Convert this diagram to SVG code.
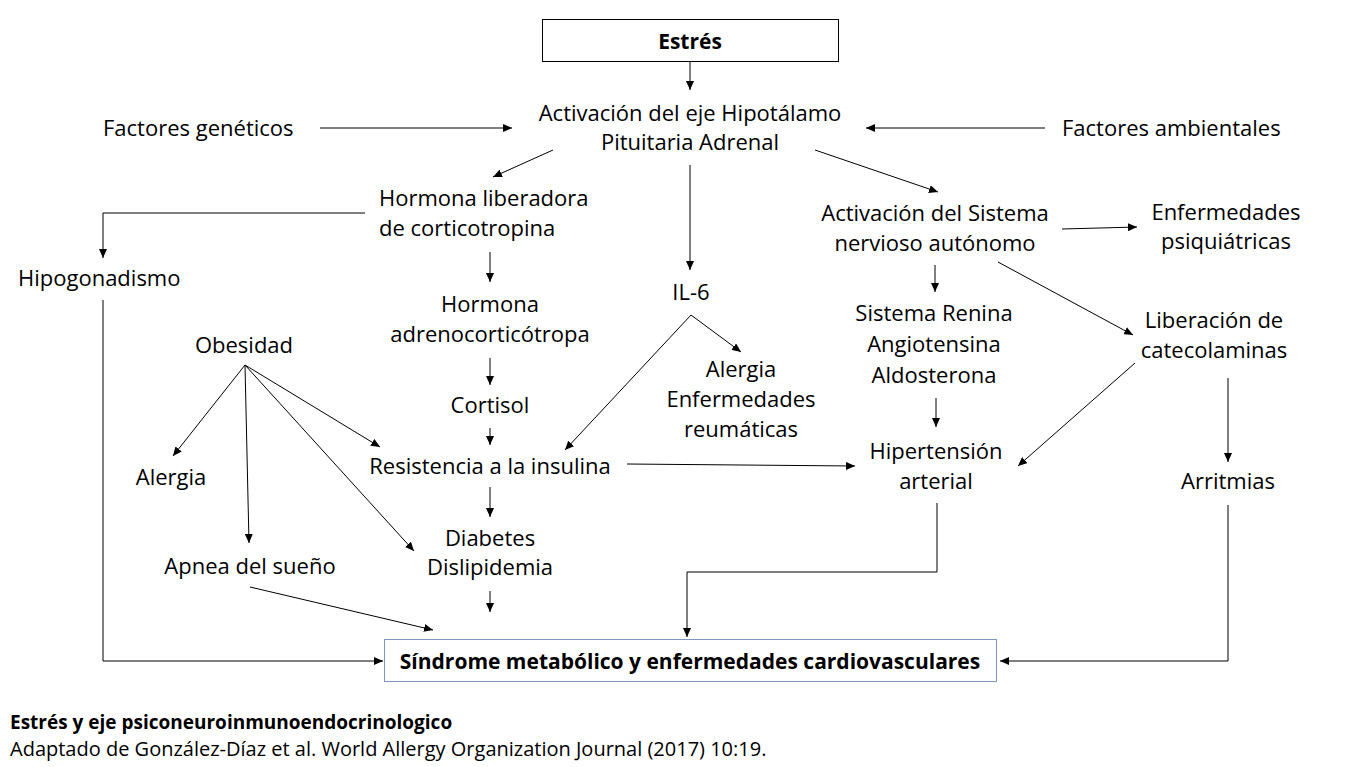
<svg xmlns="http://www.w3.org/2000/svg" width="1366" height="767" viewBox="0 0 1366 767">
<defs>
<marker id="ah" markerWidth="10" markerHeight="8" refX="9" refY="4" orient="auto" markerUnits="userSpaceOnUse">
<path d="M0,0 L9,4 L0,8 Z" fill="#000"/>
</marker>
<style>
text{font-family:"Open Sans","Liberation Sans",sans-serif;font-size:22px;fill:#000;text-anchor:middle}
.b{font-weight:bold;font-size:21px}
.l{text-anchor:start}
.cap{font-size:20px;text-anchor:start}
.capb{font-size:19px;font-weight:bold;text-anchor:start}
.c line,.c polyline{stroke:#000;stroke-width:1;fill:none;marker-end:url(#ah)}
</style>
</defs>
<rect width="1366" height="767" fill="#fff"/>
<g id="estres"><rect x="542.5" y="19.5" width="296" height="42" fill="#fff" stroke="#000"/><text class="b" x="690" y="49">Estrés</text></g>
<g id="hpa"><text x="690" y="121">Activación del eje Hipotálamo</text><text x="690" y="150">Pituitaria Adrenal</text></g>
<g id="geneticos"><text class="l" x="103" y="136">Factores genéticos</text></g>
<g id="ambientales"><text class="l" x="1062" y="136">Factores ambientales</text></g>
<g id="crh"><text class="l" x="379" y="206">Hormona liberadora</text><text class="l" x="379" y="236">de corticotropina</text></g>
<g id="hipogonadismo"><text class="l" x="18" y="286">Hipogonadismo</text></g>
<g id="acth"><text x="490" y="312">Hormona</text><text x="490" y="342">adrenocorticótropa</text></g>
<g id="cortisol"><text x="490" y="413">Cortisol</text></g>
<g id="resistencia"><text x="490" y="474">Resistencia a la insulina</text></g>
<g id="diabetes"><text x="490" y="546">Diabetes</text><text x="490" y="575">Dislipidemia</text></g>
<g id="il6"><text x="691" y="300">IL-6</text></g>
<g id="alergia2"><text x="741" y="377">Alergia</text><text x="741" y="407">Enfermedades</text><text x="741" y="437">reumáticas</text></g>
<g id="sna"><text x="935" y="221">Activación del Sistema</text><text x="935" y="251">nervioso autónomo</text></g>
<g id="psiq"><text x="1226" y="220">Enfermedades</text><text x="1226" y="249">psiquiátricas</text></g>
<g id="sraa"><text x="934" y="321">Sistema Renina</text><text x="934" y="352">Angiotensina</text><text x="934" y="383">Aldosterona</text></g>
<g id="catecol"><text x="1214" y="328">Liberación de</text><text x="1214" y="358">catecolaminas</text></g>
<g id="hta"><text x="936" y="459">Hipertensión</text><text x="936" y="489">arterial</text></g>
<g id="arritmias"><text x="1228" y="489">Arritmias</text></g>
<g id="obesidad"><text x="244" y="353">Obesidad</text></g>
<g id="alergia1"><text x="171" y="485">Alergia</text></g>
<g id="apnea"><text x="250" y="574">Apnea del sueño</text></g>
<g id="sindrome"><rect x="384.5" y="639.5" width="612" height="42" fill="#fff" stroke="#7f95c0"/><text class="b" x="690" y="669">Síndrome metabólico y enfermedades cardiovasculares</text></g>
<g id="caption"><text class="capb" x="10" y="729">Estrés y eje psiconeuroinmunoendocrinologico</text><text class="cap" x="10" y="756">Adaptado de González-Díaz et al. World Allergy Organization Journal (2017) 10:19.</text></g>
<g class="c" id="connectors">
<line x1="690" y1="62" x2="690" y2="90"/>
<line x1="320" y1="128" x2="512" y2="128"/>
<line x1="1045" y1="128" x2="866" y2="128"/>
<line x1="553" y1="150" x2="493" y2="177"/>
<polyline points="365,213 103,213 103,258"/>
<polyline points="103,300 103,661 383,661"/>
<line x1="690" y1="165" x2="690" y2="270"/>
<line x1="691" y1="315" x2="565" y2="450"/>
<line x1="691" y1="315" x2="741" y2="352"/>
<line x1="815" y1="150" x2="938" y2="192"/>
<line x1="1062" y1="229" x2="1137" y2="227"/>
<line x1="935" y1="265" x2="935" y2="292"/>
<line x1="998" y1="262" x2="1133" y2="335"/>
<line x1="936" y1="398" x2="936" y2="427"/>
<line x1="1135" y1="363" x2="1018" y2="466"/>
<line x1="1228" y1="378" x2="1228" y2="462"/>
<polyline points="1228,505 1228,661 1000,661"/>
<polyline points="937,503 937,572 687,572 687,637"/>
<line x1="245" y1="365" x2="173" y2="456"/>
<line x1="245" y1="365" x2="249" y2="543"/>
<line x1="245" y1="365" x2="380" y2="447"/>
<line x1="245" y1="365" x2="414" y2="551"/>
<line x1="250" y1="587" x2="433" y2="630"/>
<line x1="490" y1="252" x2="490" y2="282"/>
<line x1="490" y1="358" x2="490" y2="385"/>
<line x1="490" y1="428" x2="490" y2="445"/>
<line x1="627" y1="464" x2="855" y2="466"/>
<line x1="490" y1="487" x2="490" y2="517"/>
<line x1="490" y1="591" x2="490" y2="612"/>
</g>
</svg>
